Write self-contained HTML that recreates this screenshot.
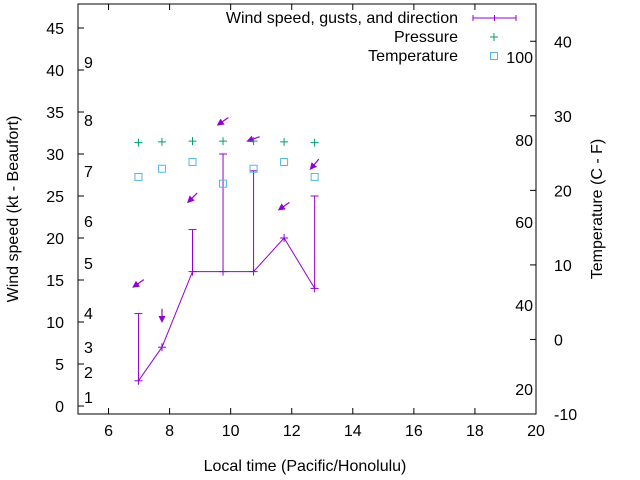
<!DOCTYPE html>
<html><head><meta charset="utf-8"><style>
body{margin:0;background:#fff}
svg{display:block;font-family:"Liberation Sans",sans-serif}
</style></head><body>
<svg id="c" width="640" height="480">
<defs><marker id="ah" markerWidth="6" markerHeight="6" refX="5" refY="3" orient="auto"><path d="M0,0 L6,3 L0,6 z" fill="#9400d3"/></marker></defs>
</svg>
<script>
const hours=[6.98,7.75,8.75,9.75,10.75,11.75,12.75];
const wind=[3,7,16,16,16,20,14];
const gusts=[11,null,21,30,28,null,25];
const arrowLevel=[14.6,10.8,24.8,33.9,31.8,23.8,28.8];
const direction=[55,0,45,55,70,55,40];
const pressure=[26.4,26.5,26.6,26.6,26.6,26.5,26.4];
const temperature=[21.8,22.9,23.8,20.9,22.9,23.8,21.8];
const xTicks=[6,8,10,12,14,16,18,20];
const yTicks=[0,5,10,15,20,25,30,35,40,45];
const y2Ticks=[-10,0,10,20,30,40];
const beaufort=[["1",397],["2",372],["3",347],["4",313],["5",263],["6",221],["7",171],["8",120],["9",62]];
const fahr=[["20",389],["40",305],["60",222],["80",140],["100",57]];
const L=78,R=536,T=4,B=414;
const FS=16;
const X=v=>L+(v-5)/15*(R-L);
const Y=v=>406-v*8.4;
const Y2=v=>B-(v+10)/55*(B-T);
const svg=document.getElementById('c');const NS='http://www.w3.org/2000/svg';
function el(t,a,txt){const e=document.createElementNS(NS,t);for(const k in a)e.setAttribute(k,a[k]);if(txt!=null)e.textContent=txt;svg.appendChild(e);return e;}
let e;
e=el('rect',{x:L,y:T,width:R-L,height:B-T,fill:'none',stroke:'#000','stroke-width':1});


xTicks.forEach(t=>{const x=X(t);
e=el('line',{x1:x,y1:B,x2:x,y2:B-6,stroke:'#000'});


el('line',{x1:x,y1:T,x2:x,y2:T+6,stroke:'#000'});
e=el('text',{x:x,y:B+22,'text-anchor':'middle','font-size':FS},t);

});
yTicks.forEach(t=>{const y=Y(t);
el('line',{x1:L,y1:y,x2:L+6,y2:y,stroke:'#000'});
e=el('text',{x:L-14,y:y+6,'text-anchor':'end','font-size':FS},t);

});
y2Ticks.forEach(t=>{const y=Y2(t);
el('line',{x1:R,y1:y,x2:R-6,y2:y,stroke:'#000'});
e=el('text',{x:R+18,y:y+6,'font-size':FS},t);

});
beaufort.forEach(b=>{e=el('text',{x:84,y:b[1]+6,'font-size':FS},b[0]);

});
fahr.forEach(b=>{e=el('text',{x:533,y:b[1]+6,'text-anchor':'end','font-size':FS},b[0]);

});
e=el('text',{x:305,y:471,'text-anchor':'middle','font-size':FS},'Local time (Pacific/Honolulu)');


e=el('text',{x:0,y:0,'text-anchor':'middle','font-size':FS,transform:'translate(18,209) rotate(-90)'},'Wind speed (kt - Beaufort)');


e=el('text',{x:0,y:0,'text-anchor':'middle','font-size':FS,transform:'translate(602,209) rotate(-90)'},'Temperature (C - F)');


const C='#9400d3';
e=el('polyline',{points:hours.map((h,i)=>X(h)+','+Y(wind[i])).join(' '),fill:'none',stroke:C});


hours.forEach((h,i)=>{const x=X(h),y=Y(wind[i]);
el('line',{x1:x-4,y1:y,x2:x+4,y2:y,stroke:C});
e=el('line',{x1:x,y1:y-4,x2:x,y2:y+4,stroke:C});


if(gusts[i]!=null){const g=Y(gusts[i]);
e=el('line',{x1:x,y1:y,x2:x,y2:g,stroke:C});


el('line',{x1:x-4,y1:g,x2:x+4,y2:g,stroke:C});}
const a=direction[i]*Math.PI/180,ay=Y(arrowLevel[i]),len=13;
const dx=Math.sin(a)*len/2,dy=-Math.cos(a)*len/2;
e=el('line',{x1:x+dx,y1:ay+dy,x2:x-dx,y2:ay-dy,stroke:C,'stroke-width':1.2,'marker-end':'url(#ah)'});


const py=Y2(pressure[i]);
e=el('path',{d:`M${x-4},${py}h8M${x},${py-4}v8`,stroke:'#009e73'});


const ty=Y2(temperature[i]);
e=el('rect',{x:x-3.5,y:ty-3.5,width:7,height:7,fill:'none',stroke:'#56b4e9'});

});
// legend
e=el('text',{x:458,y:23,'text-anchor':'end','font-size':FS},'Wind speed, gusts, and direction');


el('path',{d:'M473,18h43M473,15v6M494.5,15v6M516,15v6',stroke:C});
e=el('text',{x:458,y:42,'text-anchor':'end','font-size':FS},'Pressure');


el('path',{d:'M490,37h8M494,33v8',stroke:'#009e73'});
e=el('text',{x:458,y:61,'text-anchor':'end','font-size':FS},'Temperature');


el('rect',{x:490.5,y:52.5,width:7,height:7,fill:'none',stroke:'#56b4e9'});
</script>
</body></html>
